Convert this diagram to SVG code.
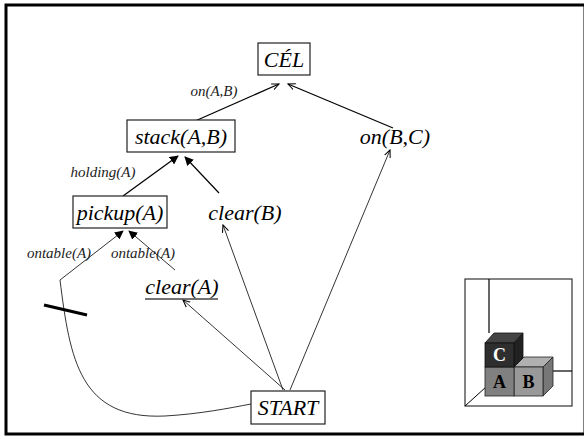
<svg xmlns="http://www.w3.org/2000/svg" width="584" height="439" viewBox="0 0 584 439">
  <style>
    .frame { fill: #fff; stroke: #000; stroke-width: 3; }
    .box { fill: #fff; stroke: #222; stroke-width: 1.2; }
    .node { font-family: "Liberation Serif", "Times New Roman", serif; font-style: italic; font-size: 22px; fill: #000; text-anchor: middle; }
    .lbl { font-family: "Liberation Serif", "Times New Roman", serif; font-style: italic; font-size: 15px; fill: #222; text-anchor: middle; }
    .edge { fill: none; stroke: #000; stroke-width: 1.2; }
    .thin { fill: none; stroke: #000; stroke-width: 0.8; }
    .blk { font-family: "Liberation Serif", "Times New Roman", serif; font-weight: bold; font-size: 18px; text-anchor: middle; }
  </style>
  <defs>
    <marker id="open" viewBox="0 0 10 10" refX="9" refY="5" markerWidth="8" markerHeight="8" orient="auto" markerUnits="userSpaceOnUse">
      <path d="M0,1 L9,5 L0,9" fill="none" stroke="#000" stroke-width="1.3"/>
    </marker>
    <marker id="solid" viewBox="0 0 10 10" refX="9" refY="5" markerWidth="9" markerHeight="9" orient="auto" markerUnits="userSpaceOnUse">
      <path d="M0,0 L10,5 L0,10 z" fill="#000"/>
    </marker>
  </defs>

  <rect class="frame" x="6" y="5" width="579" height="429"/>

  <g id="connectors">
    <line class="edge" x1="177" y1="129" x2="279" y2="84" marker-end="url(#open)"/>
    <line class="edge" x1="393" y1="128" x2="288" y2="84" marker-end="url(#open)"/>
    <line class="edge" x1="123" y1="196" x2="178" y2="156" marker-end="url(#solid)"/>
    <line class="edge" x1="219" y1="193" x2="185" y2="157" marker-end="url(#solid)"/>
    <line class="thin" x1="60" y1="280" x2="123" y2="231" marker-end="url(#solid)"/>
    <line class="thin" x1="175" y1="270" x2="129" y2="231" marker-end="url(#solid)"/>
    <path class="thin" d="M60,280 C70,360 80,420 165,416 C200,414 230,408 251,404"/>
    <line x1="44" y1="305" x2="87" y2="315" stroke="#000" stroke-width="3"/>
    <line class="thin" x1="285" y1="390" x2="183" y2="300" marker-end="url(#open)"/>
    <line class="thin" x1="283" y1="390" x2="223" y2="225" marker-end="url(#open)"/>
    <line class="thin" x1="290" y1="390" x2="390" y2="150" marker-end="url(#open)"/>
  </g>

  <g id="cel">
    <rect class="box" x="258" y="43" width="52" height="32"/>
    <text class="node" x="284" y="67">CÉL</text>
  </g>
  <text class="lbl" x="214" y="96">on(A,B)</text>

  <g id="stack">
    <rect class="box" x="127" y="120" width="108" height="32"/>
    <text class="node" x="181" y="144">stack(A,B)</text>
  </g>

  <g id="onBC">
    <text class="node" x="395" y="144">on(B,C)</text>
  </g>

  <text class="lbl" x="103" y="177">holding(A)</text>

  <g id="pickup">
    <rect class="box" x="73" y="196" width="94" height="32"/>
    <text class="node" x="120" y="220">pickup(A)</text>
  </g>

  <g id="clearB">
    <text class="node" x="245" y="220">clear(B)</text>
  </g>

  <text class="lbl" x="59" y="258">ontable(A)</text>
  <text class="lbl" x="143" y="258">ontable(A)</text>

  <g id="clearA">
    <text class="node" x="182" y="294">clear(A)</text>
    <line x1="145" y1="299" x2="218" y2="299" stroke="#444" stroke-width="1.5"/>
  </g>

  <g id="start">
    <rect class="box" x="251" y="391" width="74" height="33"/>
    <text class="node" x="288" y="415">START</text>
  </g>

  <!-- block world sketch -->
  <g id="blocks">
    <rect x="465" y="279" width="107" height="127" fill="#fff" stroke="#333" stroke-width="1.2"/>
    <line x1="489" y1="279" x2="489" y2="333" stroke="#000" stroke-width="1.2"/>
    <line x1="553" y1="371" x2="572" y2="371" stroke="#000" stroke-width="1.2"/>
    <line x1="465" y1="406" x2="486" y2="387" stroke="#000" stroke-width="1"/>
    <!-- B -->
    <polygon points="514,367 543,367 553,357 524,357" fill="#b0b0b0" stroke="#222" stroke-width="0.8"/>
    <polygon points="543,367 553,357 553,386 543,396" fill="#777" stroke="#222" stroke-width="0.8"/>
    <rect x="514" y="367" width="29" height="29" fill="#999" stroke="#222" stroke-width="0.8"/>
    <!-- A -->
    <rect x="485" y="367" width="29" height="29" fill="#808080" stroke="#222" stroke-width="0.8"/>
    <!-- C -->
    <polygon points="485,343 514,343 523,333 494,333" fill="#444" stroke="#111" stroke-width="0.8"/>
    <polygon points="514,343 523,333 523,358 514,367" fill="#222" stroke="#111" stroke-width="0.8"/>
    <rect x="485" y="343" width="29" height="24" fill="#2e2e2e" stroke="#111" stroke-width="0.8"/>
    <text class="blk" x="499.5" y="361" fill="#fff">C</text>
    <text class="blk" x="499.5" y="388" fill="#000">A</text>
    <text class="blk" x="528.5" y="388" fill="#000">B</text>
  </g>
</svg>
